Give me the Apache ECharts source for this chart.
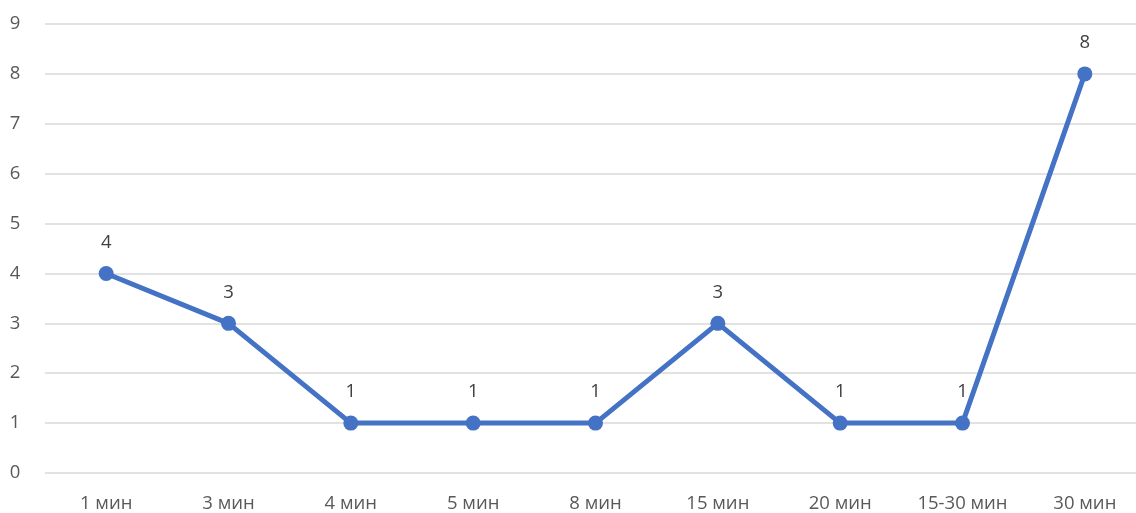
<!DOCTYPE html>
<html>
<head>
<meta charset="utf-8">
<script src="https://cdn.jsdelivr.net/npm/echarts@6/dist/echarts.min.js"></script>
<style>
  html, body { margin: 0; padding: 0; background: #ffffff; overflow: hidden; }
  /* plot area runs slightly past the right edge of the window */
  #chart { width: 1146px; height: 513px; }
</style>
</head>
<body>
<div id="chart"></div>
<script>
// Durations (categories) and counts per duration
const categories = ['1 мин', '3 мин', '4 мин', '5 мин', '8 мин', '15 мин', '20 мин', '15-30 мин', '30 мин'];
const counts = [4, 3, 1, 1, 1, 3, 1, 1, 8];
const yTicks = { min: 0, max: 9, interval: 1 };

const chart = echarts.init(document.getElementById('chart'));
const textColor = '#595959';
const fontFamily = '"Open Sans", "Noto Sans", sans-serif';

chart.setOption({
  animation: false,
  backgroundColor: '#ffffff',
  grid: { left: 45, top: 24, right: 0, height: 450, containLabel: false },
  xAxis: {
    type: 'category',
    data: categories,
    boundaryGap: true,
    axisLine: { show: false },
    axisTick: { show: false },
    axisLabel: { color: textColor, fontSize: 18.5, fontFamily: fontFamily, margin: 21 }
  },
  yAxis: {
    type: 'value',
    min: yTicks.min,
    max: yTicks.max,
    interval: yTicks.interval,
    axisLine: { show: false },
    axisTick: { show: false },
    axisLabel: { color: textColor, fontSize: 18.5, fontFamily: fontFamily, margin: 30, align: 'center' },
    splitLine: { lineStyle: { color: '#d9d9d9', width: 1.5 } }
  },
  series: [{
    type: 'line',
    data: counts,
    symbol: 'circle',
    symbolSize: 15,
    itemStyle: { color: '#4472C4' },
    lineStyle: { color: '#4472C4', width: 5 },
    label: {
      show: true,
      position: 'top',
      distance: 14,
      color: '#404040',
      fontSize: 18.5,
      fontFamily: fontFamily
    }
  }]
});
</script>
</body>
</html>
